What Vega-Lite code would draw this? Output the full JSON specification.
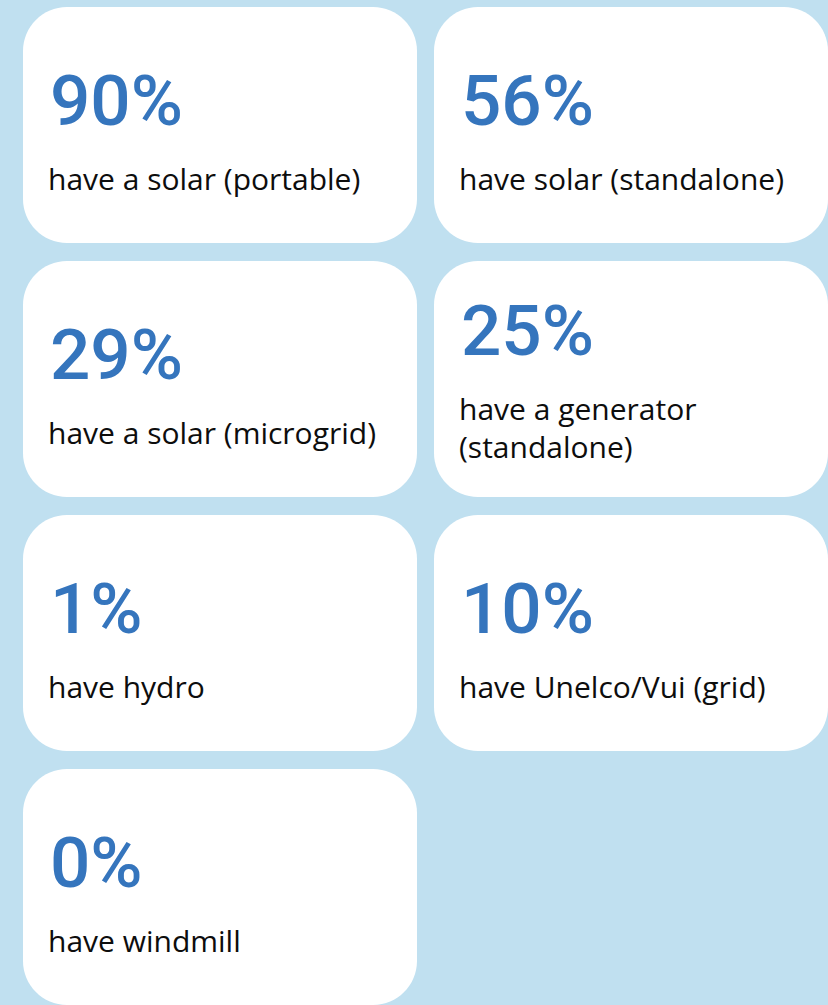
{
  "$schema": "https://vega.github.io/schema/vega-lite/v6.json",
  "width": 828,
  "height": 1005,
  "autosize": {"type": "fit", "contains": "padding"},
  "padding": {"left": 23, "top": 7, "right": 0, "bottom": 0},
  "background": "#c0e0f0",
  "config": {"view": {"stroke": null}},
  "data": {
    "values": [
      {"row": 0, "col": 0, "value": "90%", "label": "have a solar (portable)"},
      {"row": 0, "col": 1, "value": "56%", "label": "have solar (standalone)"},
      {"row": 1, "col": 0, "value": "29%", "label": "have a solar (microgrid)"},
      {"row": 1, "col": 1, "value": "25%", "label": "have a generator\n(standalone)"},
      {"row": 2, "col": 0, "value": "1%", "label": "have hydro"},
      {"row": 2, "col": 1, "value": "10%", "label": "have Unelco/Vui (grid)"},
      {"row": 3, "col": 0, "value": "0%", "label": "have windmill"}
    ]
  },
  "layer": [
    {
      "mark": {"type": "rect", "color": "white", "cornerRadius": 44},
      "encoding": {
        "x": {"field": "col", "type": "ordinal", "axis": null, "scale": {"paddingInner": 0.0414, "paddingOuter": 0}},
        "y": {"field": "row", "type": "ordinal", "axis": null, "scale": {"paddingInner": 0.0709, "paddingOuter": 0}}
      }
    },
    {
      "mark": {
        "type": "text", "font": "Roboto", "fontSize": 71, "fontWeight": 500, "color": "#3575bd",
        "align": "left", "baseline": "alphabetic", "dx": 27,
        "dy": {"expr": "indexof(datum.label, '\\n') >= 0 ? 94 : 118"}
      },
      "encoding": {
        "x": {"field": "col", "type": "ordinal", "bandPosition": 0},
        "y": {"field": "row", "type": "ordinal", "bandPosition": 0},
        "text": {"field": "value"}
      }
    },
    {
      "mark": {
        "type": "text", "font": "Open Sans", "fontSize": 30, "color": "#0d0d0d",
        "align": "left", "baseline": "alphabetic", "dx": 25, "lineBreak": "\n", "lineHeight": 38,
        "dy": {"expr": "indexof(datum.label, '\\n') >= 0 ? 159 : 183"}
      },
      "encoding": {
        "x": {"field": "col", "type": "ordinal", "bandPosition": 0},
        "y": {"field": "row", "type": "ordinal", "bandPosition": 0},
        "text": {"field": "label"}
      }
    }
  ]
}
